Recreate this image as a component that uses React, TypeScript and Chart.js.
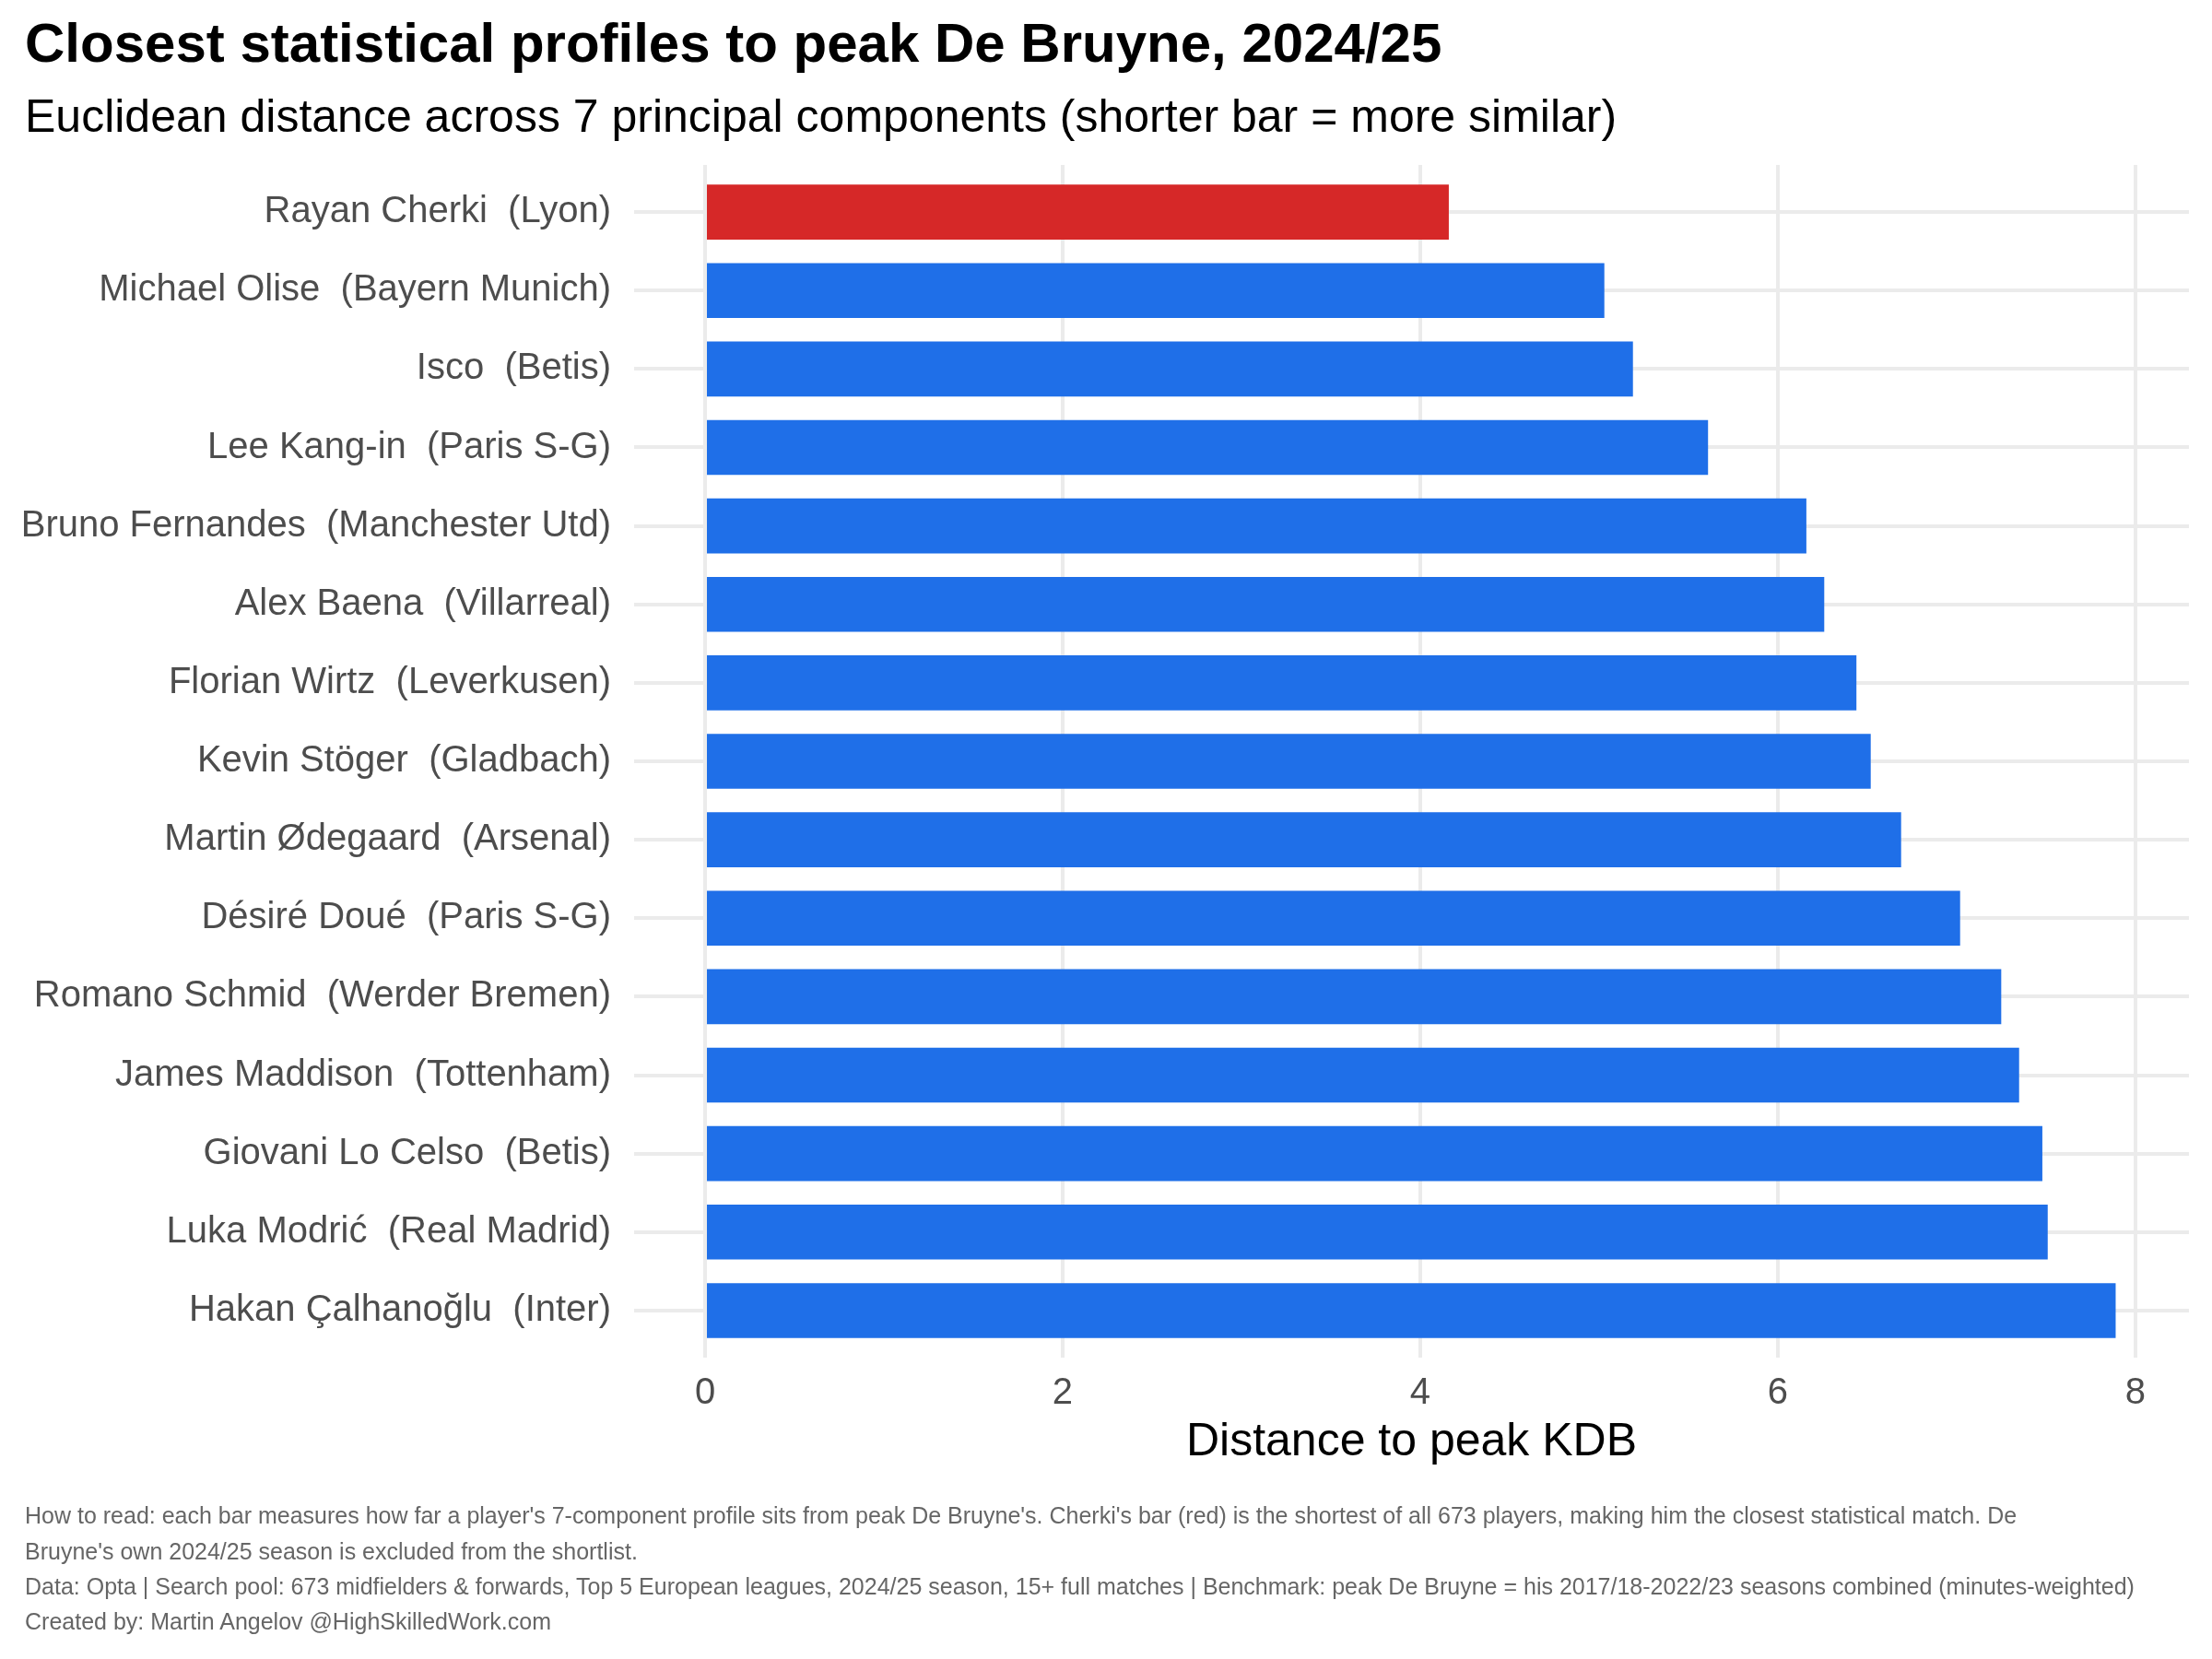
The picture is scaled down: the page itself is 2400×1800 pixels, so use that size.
import React, { useEffect, useRef } from 'react'
import { Chart, registerables } from 'chart.js'

Chart.register(...registerables)

// players, top (closest) to bottom
const players = [
  'Rayan Cherki  (Lyon)',
  'Michael Olise  (Bayern Munich)',
  'Isco  (Betis)',
  'Lee Kang-in  (Paris S-G)',
  'Bruno Fernandes  (Manchester Utd)',
  'Alex Baena  (Villarreal)',
  'Florian Wirtz  (Leverkusen)',
  'Kevin Stöger  (Gladbach)',
  'Martin Ødegaard  (Arsenal)',
  'Désiré Doué  (Paris S-G)',
  'Romano Schmid  (Werder Bremen)',
  'James Maddison  (Tottenham)',
  'Giovani Lo Celso  (Betis)',
  'Luka Modrić  (Real Madrid)',
  'Hakan Çalhanoğlu  (Inter)',
]

const distances = [4.16, 5.03, 5.19, 5.61, 6.16, 6.26, 6.44, 6.52, 6.69, 7.02, 7.25, 7.35, 7.48, 7.51, 7.89]

const highlightPlayer = 'Rayan Cherki  (Lyon)'

const xTickValues = [0, 2, 4, 6, 8]

const titleText = 'Closest statistical profiles to peak De Bruyne, 2024/25'
const subtitleText = 'Euclidean distance across 7 principal components (shorter bar = more similar)'
const xAxisTitle = 'Distance to peak KDB'

const footerLines = [
  "How to read: each bar measures how far a player's 7-component profile sits from peak De Bruyne's. Cherki's bar (red) is the shortest of all 673 players, making him the closest statistical match. De",
  "Bruyne's own 2024/25 season is excluded from the shortlist.",
  'Data: Opta | Search pool: 673 midfielders & forwards, Top 5 European leagues, 2024/25 season, 15+ full matches | Benchmark: peak De Bruyne = his 2017/18-2022/23 seasons combined (minutes-weighted)',
  'Created by: Martin Angelov @HighSkilledWork.com',
]

const FONT = '"Liberation Sans", Arial, Helvetica, sans-serif'
const RED = '#d62828'
const BLUE = '#1f6fe8'
const GRID = '#ebebeb'
const AXIS_TEXT = '#4d4d4d'

const footerTops = [1632, 1671, 1709, 1747]

export default function App() {
  const canvasRef = useRef<HTMLCanvasElement>(null)

  useEffect(() => {
    if (!canvasRef.current) return

    const chart = new Chart(canvasRef.current, {
      type: 'bar',
      data: {
        datasets: [
          {
            data: distances.map((d, i) => ({ x: d, y: i })),
            backgroundColor: players.map((p) => (p === highlightPlayer ? RED : BLUE)),
            borderWidth: 0,
            barPercentage: 0.7,
            categoryPercentage: 1,
          },
        ],
      },
      options: {
        indexAxis: 'y',
        animation: false,
        responsive: false,
        devicePixelRatio: 1,
        layout: { padding: { top: 179, right: 25, bottom: 205, left: 0 } },
        plugins: {
          legend: { display: false },
          tooltip: { enabled: false },
        },
        scales: {
          x: {
            type: 'linear',
            position: 'bottom',
            min: -0.397,
            max: 8.3,
            afterBuildTicks: (scale: any) => {
              scale.ticks = xTickValues.map((v) => ({ value: v }))
            },
            afterFit: (scale: any) => {
              scale.height = 122
            },
            grid: { color: GRID, lineWidth: 4, drawTicks: false },
            border: { display: false },
            ticks: {
              font: { family: FONT, size: 40 },
              color: AXIS_TEXT,
              padding: 15,
            },
            title: {
              display: true,
              text: xAxisTitle,
              font: { family: FONT, size: 50 },
              color: '#000000',
              padding: 0,
            },
          },
          y: {
            type: 'linear',
            reverse: true,
            offset: false,
            min: -0.6,
            max: players.length - 0.4,
            afterBuildTicks: (scale: any) => {
              scale.ticks = players.map((_, i) => ({ value: i }))
            },
            afterFit: (scale: any) => {
              scale.width = 688
            },
            grid: { color: GRID, lineWidth: 4, drawTicks: false, offset: false },
            border: { display: false },
            ticks: {
              autoSkip: false,
              callback: (value: any) => players[value as number],
              font: { family: FONT, size: 40 },
              color: AXIS_TEXT,
              padding: 25,
            },
          },
        },
      } as any,
    })

    return () => {
      chart.destroy()
    }
  }, [])

  return (
    <div
      style={{
        position: 'absolute',
        left: 0,
        top: 0,
        width: 2400,
        height: 1800,
        background: '#ffffff',
        fontFamily: FONT,
        overflow: 'hidden',
      }}
    >
      <canvas ref={canvasRef} width={2400} height={1800} style={{ position: 'absolute', left: 0, top: 0 }} />
      <div
        style={{
          position: 'absolute',
          left: 27,
          top: 17,
          fontSize: 60,
          lineHeight: '60px',
          fontWeight: 'bold',
          color: '#000',
          whiteSpace: 'nowrap',
        }}
      >
        {titleText}
      </div>
      <div
        style={{
          position: 'absolute',
          left: 27,
          top: 101,
          fontSize: 50,
          lineHeight: '50px',
          color: '#000',
          whiteSpace: 'nowrap',
        }}
      >
        {subtitleText}
      </div>
      {footerLines.map((line, i) => (
        <div
          key={i}
          style={{
            position: 'absolute',
            left: 27,
            top: footerTops[i],
            fontSize: 25,
            lineHeight: '25px',
            color: '#666666',
            whiteSpace: 'pre',
          }}
        >
          {line}
        </div>
      ))}
    </div>
  )
}
